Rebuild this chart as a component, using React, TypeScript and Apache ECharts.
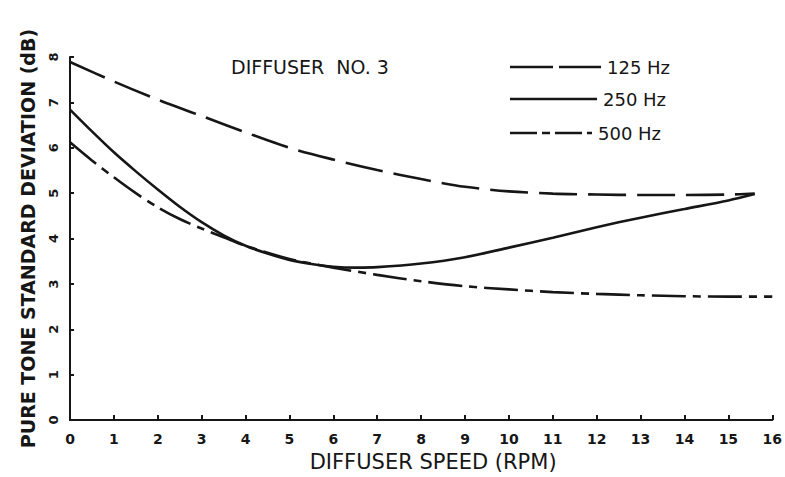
import React, { useEffect, useRef } from "react";
import * as echarts from "echarts";

const xTicks = [0, 1, 2, 3, 4, 5, 6, 7, 8, 9, 10, 11, 12, 13, 14, 15, 16];
const yTicks = [0, 1, 2, 3, 4, 5, 6, 7, 8];

const hz125: [number, number][] = [
  [0, 7.89], [1, 7.46], [2, 7.06], [3, 6.7], [4, 6.34], [5, 6.0], [6, 5.74],
  [7, 5.51], [8, 5.31], [9, 5.14], [10, 5.04], [11, 4.99], [12, 4.97], [13, 4.96],
  [14, 4.96], [15, 4.97], [15.6, 4.99],
];
const hz250: [number, number][] = [
  [0, 6.84], [0.5, 6.36], [1, 5.9], [1.5, 5.48], [2, 5.08], [2.5, 4.7], [3, 4.36],
  [3.5, 4.07], [4, 3.84], [4.5, 3.67], [5, 3.53], [5.5, 3.44], [6, 3.38], [6.5, 3.36],
  [7, 3.37], [8, 3.45], [9, 3.59], [10, 3.8], [11, 4.02], [12, 4.25], [13, 4.46],
  [14, 4.65], [15, 4.84], [15.6, 4.98],
];
const hz500: [number, number][] = [
  [0, 6.12], [0.5, 5.72], [1, 5.35], [1.5, 5.0], [2, 4.69], [2.5, 4.43], [3, 4.22],
  [3.5, 4.03], [4, 3.84], [5, 3.55], [6, 3.36], [7, 3.2], [8, 3.06], [9, 2.95],
  [10, 2.88], [11, 2.82], [12, 2.78], [13, 2.75], [14, 2.73], [15, 2.72], [16, 2.72],
];

const seriesNames = ["125 Hz", "250 Hz", "500 Hz"];
const titleText = "DIFFUSER  NO. 3";
const xName = "DIFFUSER SPEED (RPM)";
const yName = "PURE TONE STANDARD DEVIATION (dB)";

const INK = "#161616";
const FONT = "DejaVu Sans";

export default function App() {
  const ref = useRef<HTMLDivElement>(null);
  useEffect(() => {
    if (!ref.current) return;
    const chart = echarts.init(ref.current, null, { renderer: "svg" });
    const dashes: any[] = [[38, 11], "solid", [34, 7, 8, 7]];
    const datas = [hz125, hz250, hz500];
    const legendY = [67, 99, 133];
    const legendTextX = [607, 603, 598];
    const legendDash: any[] = [[43, 6], null, [27, 5, 8, 5]];
    const graphic: any[] = [];
    seriesNames.forEach((n, i) => {
      graphic.push({
        type: "line",
        shape: { x1: 510, y1: legendY[i], x2: legendTextX[i] - 6, y2: legendY[i] },
        style: { stroke: INK, lineWidth: 2.6, lineDash: legendDash[i] || undefined },
      });
      graphic.push({
        type: "text",
        x: legendTextX[i],
        y: legendY[i],
        style: { text: n, fontFamily: FONT, fontSize: 18, fill: INK, verticalAlign: "middle" },
      });
    });
    chart.setOption({
      animation: false,
      backgroundColor: "#ffffff",
      title: {
        text: titleText,
        left: 226,
        top: 52,
        textStyle: { fontFamily: FONT, fontSize: 19, fontWeight: "normal", color: INK },
      },
      grid: { left: 70, right: 7, top: 57, bottom: 55 },
      xAxis: {
        type: "value",
        min: 0,
        max: 16,
        interval: 1,
        name: xName,
        nameLocation: "middle",
        nameGap: 30,
        nameTextStyle: { fontFamily: FONT, fontSize: 21, color: INK, padding: [0, 0, 0, 24] },
        axisLine: { lineStyle: { color: INK, width: 2 } },
        axisTick: { inside: true, length: 5, lineStyle: { color: INK, width: 2 } },
        axisLabel: { fontFamily: FONT, fontSize: 14, fontWeight: "bold", color: INK, margin: 12,
          formatter: (v: number) => (xTicks.includes(v) ? String(v) : "") },
        splitLine: { show: false },
      },
      yAxis: {
        type: "value",
        min: 0,
        max: 8,
        interval: 1,
        name: yName,
        nameLocation: "middle",
        nameRotate: 90,
        nameGap: 33,
        nameTextStyle: { fontFamily: FONT, fontSize: 19, fontWeight: "bold", color: INK },
        axisLine: { show: true, lineStyle: { color: INK, width: 2 } },
        axisTick: { show: true, inside: true, length: 4, lineStyle: { color: INK, width: 2 } },
        axisLabel: { fontFamily: FONT, fontSize: 13, fontWeight: "bold", color: INK, margin: 10, rotate: 90,
          formatter: (v: number) => (yTicks.includes(v) ? String(v) : "") },
        splitLine: { show: false },
      },
      series: datas.map((d, i) => ({
        name: seriesNames[i],
        type: "line",
        data: d,
        smooth: 0.3,
        symbol: "none",
        lineStyle: { color: INK, width: 2.6, type: dashes[i] },
      })),
      graphic,
    });
    return () => chart.dispose();
  }, []);
  return (
    <div
      ref={ref}
      style={{ position: "fixed", left: 0, top: 0, width: 785, height: 477, background: "#fff" }}
    />
  );
}
